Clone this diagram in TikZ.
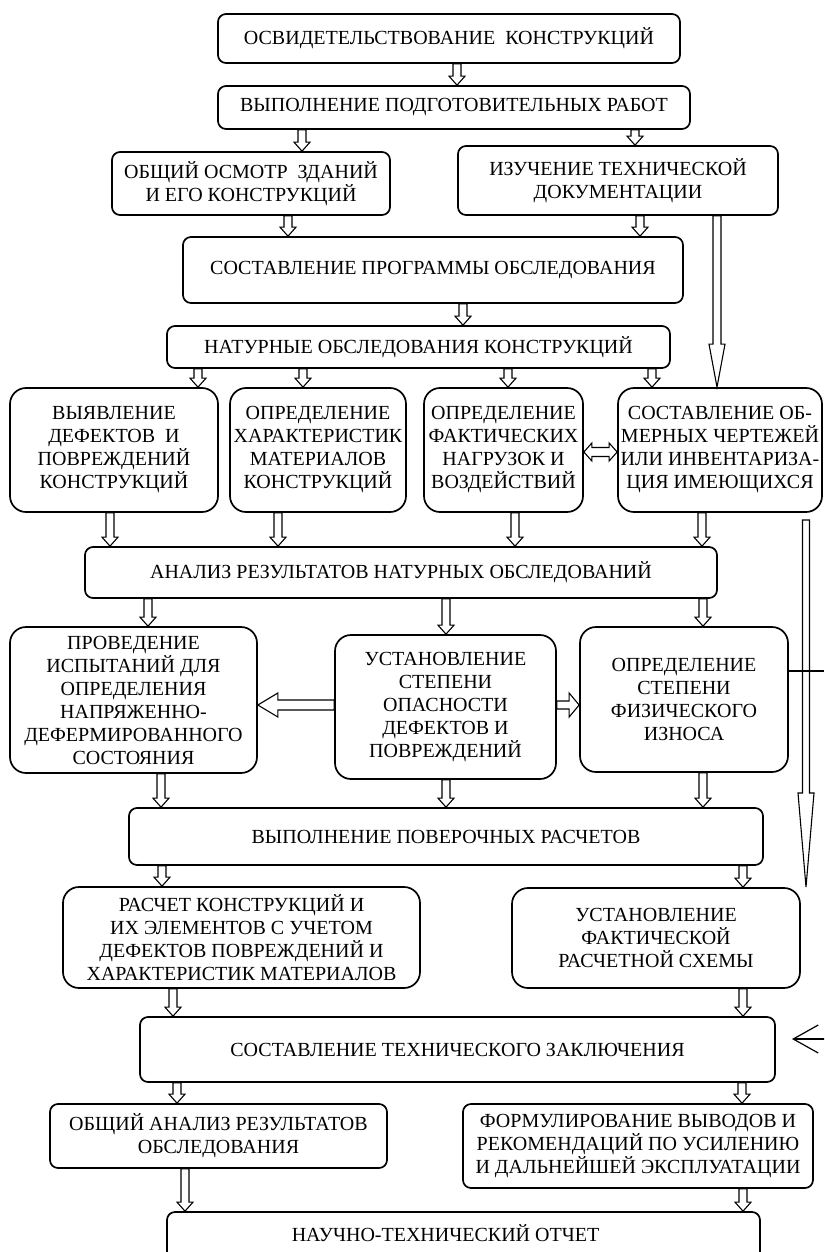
\documentclass[tikz,border=0pt]{standalone}
\usepackage{fontspec}
\setmainfont{Liberation Serif}
\usetikzlibrary{arrows.meta,calc}
\tikzset{
  stage/.style={draw,line width=1.7pt,rounded corners=8pt,align=center,
    font=\fontsize{20}{23}\selectfont,inner sep=1pt},
  bigstage/.style={stage,rounded corners=16pt},
  hollow/.style={draw,line width=1.1pt,line join=miter},
  thin link/.style={line width=1.2pt},
}
% hollow block arrow: from, to, shaft half width, head half width, head length
\newcommand\hollowarrow[5]{%
  \coordinate (ha) at (#1); \coordinate (hb) at (#2);
  \coordinate (hc) at ($(hb)!#5!(ha)$);
  \draw[hollow] ($(ha)!#3!90:(hb)$) -- ($(hc)!#3!90:(hb)$) -- ($(hc)!#4!90:(hb)$) -- (hb)
    -- ($(hc)!#4!-90:(hb)$) -- ($(hc)!#3!-90:(hb)$) -- ($(ha)!#3!-90:(hb)$) -- cycle;}
\newcommand\hollowboth[5]{%
  \coordinate (ha) at (#1); \coordinate (hb) at (#2);
  \coordinate (hc) at ($(hb)!#5!(ha)$); \coordinate (hd) at ($(ha)!#5!(hb)$);
  \draw[hollow] (ha) -- ($(hd)!#4!90:(hb)$) -- ($(hd)!#3!90:(hb)$) -- ($(hc)!#3!90:(hb)$)
    -- ($(hc)!#4!90:(hb)$) -- (hb) -- ($(hc)!#4!-90:(hb)$) -- ($(hc)!#3!-90:(hb)$)
    -- ($(hd)!#3!-90:(hb)$) -- ($(hd)!#4!-90:(hb)$) -- cycle;}

\begin{document}
\begin{tikzpicture}[x=1pt,y=-1pt]
  \useasboundingbox (0,0) rectangle (824,1252);
  \clip (0,0) rectangle (824,1252);

  \node[stage,minimum width=462pt,minimum height=49pt] (survey) at (449,38.5) {ОСВИДЕТЕЛЬСТВОВАНИЕ~~КОНСТРУКЦИЙ};
  \node[stage,minimum width=472pt,minimum height=43pt] (prep) at (454,107.5) {ВЫПОЛНЕНИЕ ПОДГОТОВИТЕЛЬНЫХ РАБОТ};
  \node[stage,minimum width=278pt,minimum height=63pt] (look) at (251,183.5) {ОБЩИЙ ОСМОТР~~ЗДАНИЙ\\И ЕГО КОНСТРУКЦИЙ};
  \node[stage,minimum width=320pt,minimum height=69pt] (docs) at (618,180.5) {ИЗУЧЕНИЕ ТЕХНИЧЕСКОЙ\\ДОКУМЕНТАЦИИ};
  \node[stage,minimum width=500pt,minimum height=66pt] (prog) at (433,270) {СОСТАВЛЕНИЕ ПРОГРАММЫ ОБСЛЕДОВАНИЯ};
  \node[stage,minimum width=503pt,minimum height=42pt] (field) at (418.5,347) {НАТУРНЫЕ ОБСЛЕДОВАНИЯ КОНСТРУКЦИЙ};

  \node[bigstage,minimum width=208pt,minimum height=124pt] (defects) at (114,450) {ВЫЯВЛЕНИЕ\\ДЕФЕКТОВ~~И\\ПОВРЕЖДЕНИЙ\\КОНСТРУКЦИЙ};
  \node[bigstage,minimum width=176pt,minimum height=124pt] (mater) at (318,450) {ОПРЕДЕЛЕНИЕ\\ХАРАКТЕРИСТИК\\МАТЕРИАЛОВ\\КОНСТРУКЦИЙ};
  \node[bigstage,minimum width=159pt,minimum height=124pt] (loads) at (503.5,450) {ОПРЕДЕЛЕНИЕ\\ФАКТИЧЕСКИХ\\НАГРУЗОК И\\ВОЗДЕЙСТВИЙ};
  \node[bigstage,minimum width=204pt,minimum height=124pt] (plans) at (720,450) {СОСТАВЛЕНИЕ ОБ-\\МЕРНЫХ ЧЕРТЕЖЕЙ\\ИЛИ ИНВЕНТАРИЗА-\\ЦИЯ ИМЕЮЩИХСЯ};

  \node[stage,minimum width=632pt,minimum height=51pt] (results) at (401,572.5) {АНАЛИЗ РЕЗУЛЬТАТОВ НАТУРНЫХ ОБСЛЕДОВАНИЙ};

  \node[bigstage,minimum width=247pt,minimum height=146pt] (tests) at (133.5,700) {ПРОВЕДЕНИЕ\\ИСПЫТАНИЙ ДЛЯ\\ОПРЕДЕЛЕНИЯ\\НАПРЯЖЕННО-\\ДЕФЕРМИРОВАННОГО\\СОСТОЯНИЯ};
  \node[bigstage,minimum width=221pt,minimum height=144pt] (danger) at (445.5,707) {УСТАНОВЛЕНИЕ\\СТЕПЕНИ\\ОПАСНОСТИ\\ДЕФЕКТОВ И\\ПОВРЕЖДЕНИЙ};
  \node[bigstage,minimum width=208pt,minimum height=145pt] (wear) at (684,699.5) {ОПРЕДЕЛЕНИЕ\\СТЕПЕНИ\\ФИЗИЧЕСКОГО\\ИЗНОСА};

  \node[stage,minimum width=634pt,minimum height=57pt] (checks) at (446,836.5) {ВЫПОЛНЕНИЕ ПОВЕРОЧНЫХ РАСЧЕТОВ};
  \node[bigstage,minimum width=357pt,minimum height=101pt] (calc) at (241.5,937.5) {РАСЧЕТ КОНСТРУКЦИЙ И\\ИХ ЭЛЕМЕНТОВ С УЧЕТОМ\\ДЕФЕКТОВ ПОВРЕЖДЕНИЙ И\\ХАРАКТЕРИСТИК МАТЕРИАЛОВ};
  \node[bigstage,minimum width=288pt,minimum height=100pt] (scheme) at (656,938) {УСТАНОВЛЕНИЕ\\ФАКТИЧЕСКОЙ\\РАСЧЕТНОЙ СХЕМЫ};

  \node[stage,minimum width=635pt,minimum height=65pt] (concl) at (457.5,1049.5) {СОСТАВЛЕНИЕ ТЕХНИЧЕСКОГО ЗАКЛЮЧЕНИЯ};
  \node[stage,minimum width=337pt,minimum height=64pt] (summary) at (218.5,1136) {ОБЩИЙ АНАЛИЗ РЕЗУЛЬТАТОВ\\ОБСЛЕДОВАНИЯ};
  \node[stage,minimum width=350pt,minimum height=84pt] (advice) at (638,1146) {ФОРМУЛИРОВАНИЕ ВЫВОДОВ И\\РЕКОМЕНДАЦИЙ ПО УСИЛЕНИЮ\\И ДАЛЬНЕЙШЕЙ ЭКСПЛУАТАЦИИ};
  \node[stage,minimum width=593pt,minimum height=56pt] (report) at (463.5,1240) {\hspace*{-36pt}\raisebox{14pt}{НАУЧНО-ТЕХНИЧЕСКИЙ ОТЧЕТ}};

  % small downward arrows
  \foreach \x/\a/\b in {457/survey/prep, 302/prep/look, 635/prep/docs, 288/look/prog, 640/docs/prog,
      463/prog/field, 198/field/defects, 303/field/mater, 508/field/loads, 652/field/plans,
      110/defects/results, 278/mater/results, 515/loads/results, 702/plans/results,
      148/results/tests, 446/results/danger, 703/results/wear,
      161/tests/checks, 446/danger/checks, 703/wear/checks,
      162/checks/calc, 743/checks/scheme, 173/calc/concl, 743/scheme/concl,
      177/concl/summary, 742/concl/advice, 185/summary/report, 743/advice/report}
    \hollowarrow{\a.south -| \x,0}{\b.north -| \x,0}{4pt}{8pt}{9pt};

  % side arrows
  \hollowarrow{docs.south -| 717,0}{plans.north -| 717,0}{4pt}{8pt}{43pt};
  \hollowboth{loads.east |- 0,452}{plans.west |- 0,452}{4.5pt}{9pt}{8pt};
  \hollowarrow{danger.west |- 0,705}{tests.east |- 0,705}{5pt}{12pt}{20pt};
  \hollowarrow{danger.east |- 0,705}{wear.west |- 0,705}{4pt}{12pt}{10pt};

  \coordinate (fromtop) at (806,520);
  \coordinate (tobottom) at (806,887);
  \hollowarrow{fromtop}{tobottom}{3.5pt}{8pt}{94pt};

  \coordinate (edgewear) at (824,671);
  \draw[thin link] (wear.east |- edgewear) -- (edgewear);
  \coordinate (edgeconcl) at (826,1039);
  \coordinate (tipconcl) at (792,1039);
  \draw[thin link,-{Straight Barb[length=25pt,width=28pt]}] (edgeconcl) -- (tipconcl);
\end{tikzpicture}
\end{document}
